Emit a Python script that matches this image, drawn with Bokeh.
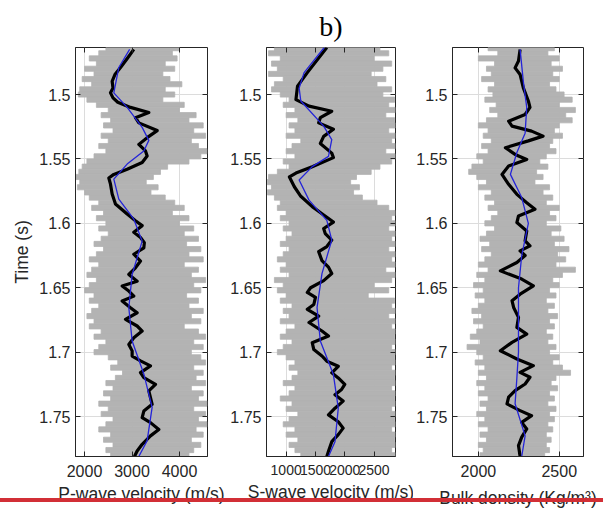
import numpy as np
from bokeh.plotting import figure
from bokeh.layouts import row
from bokeh.models import Range1d, FixedTicker, LinearAxis, Title
from bokeh.embed import file_html
from bokeh.resources import INLINE

# ---------------- data ----------------
T_GRID = np.round(1.464 + 0.004 * np.arange(80), 4)   # sample times of the raw logs (s)

# raw logs (grey band): left / right extent at each sample
P_LEFT = [2450,2300,2100,2250,2000,2200,1950,2150,1900,1870,2050,2250,2500,2350,2550,2400,2600,2350,2500,2300,
          2450,2200,2050,1950,1880,1820,1900,1850,2000,2100,2300,2150,2400,2250,2450,2300,2500,2350,2200,2400,
          2250,2100,2300,2150,2050,2250,2100,2000,2200,2100,2300,2150,2050,2200,2100,2350,2200,2450,2300,2200,
          2500,2700,2550,2800,2650,2450,2600,2400,2550,2300,2500,2350,2600,2450,2300,2550,2400,2600,2450,2550]
P_RIGHT = [4000,3850,3950,3700,3900,3650,3800,4050,3700,3900,3650,4100,4000,4350,4200,4500,4300,4550,4250,4400,
           4580,4450,4200,3750,3600,3450,3300,3550,3400,3700,3900,4100,3850,4200,4000,4300,4100,4400,4150,4450,
           4200,4500,4100,4400,4250,4550,4300,4450,4150,4400,4200,4500,4250,4450,4100,4400,4550,4300,4500,4250,
           4450,4550,4300,4500,4350,4550,4250,4500,4400,4580,4300,4550,4400,4580,4350,4500,4250,4450,4300,4200]
S_LEFT = [800,700,900,750,850,700,950,800,750,900,1050,950,1150,1000,1200,1050,1150,1000,1250,1100,
          1000,1150,950,1050,850,700,680,750,680,800,900,850,1000,900,1050,950,1100,1000,900,1050,
          950,850,1000,900,1050,800,950,850,1000,900,1100,950,1050,900,1150,1000,900,1100,950,850,
          1000,1150,1050,1200,1100,950,1150,1050,900,1100,1000,1200,1050,950,1150,1000,1200,1050,1150,1250]
S_RIGHT = [2600,2750,2500,2800,2650,2450,2700,2550,2800,2650,2850,2750,2860,2700,2850,2860,2750,2860,2800,2860,
           2700,2860,2800,2600,2450,2200,2100,2250,2150,2300,2550,2750,2860,2800,2860,2750,2860,2800,2860,2750,
           2860,2800,2860,2700,2860,2800,2500,2750,2400,2850,2800,2860,2750,2860,2800,2860,2850,2860,2800,2860,
           2850,2860,2800,2860,2850,2860,2800,2860,2850,2860,2800,2860,2850,2860,2800,2860,2850,2860,2800,2860]
D_LEFT = [2060,2120,2000,2100,2050,2080,2020,2100,2060,2090,2040,2110,2070,2120,2050,2000,2060,2030,2080,2020,
          2060,1990,2030,1960,1940,1990,2050,2000,2080,2040,2100,2060,2120,2080,2040,2100,2050,2010,2070,2020,
          2080,2040,2000,2060,1990,2040,1970,2030,1980,2040,2000,1960,2020,1970,2030,1990,1950,2010,1930,1990,
          2030,1980,2040,2000,2050,1990,2040,2000,2060,2010,2050,1990,2040,2000,2060,2010,2050,2000,2030,2010]
D_RIGHT = [2470,2430,2500,2450,2520,2460,2500,2440,2480,2530,2580,2500,2600,2540,2580,2500,2470,2520,2460,2440,
           2480,2420,2380,2430,2360,2400,2350,2440,2400,2460,2420,2500,2440,2480,2420,2510,2450,2530,2470,2560,
           2490,2540,2480,2600,2520,2460,2500,2440,2480,2420,2470,2430,2490,2440,2470,2420,2460,2430,2480,2440,
           2500,2460,2520,2570,2480,2450,2490,2440,2470,2430,2480,2440,2470,2430,2460,2420,2450,2420,2440,2410]

# black (thick) curves
T_P_BLK = [1.465,1.472,1.479,1.4845,1.4897,1.495,1.4987,1.5026,1.506,1.51,1.514,1.518,1.522,1.528,1.5335,1.5387,
           1.5438,1.5477,1.5528,1.558,1.562,1.5648,1.5696,1.5773,1.585,1.5928,1.598,1.6018,1.607,1.611,1.615,1.619,
           1.624,1.6293,1.6345,1.6397,1.645,1.6487,1.6526,1.6565,1.6603,1.6655,1.6694,1.6745,1.6797,1.6836,1.6888,
           1.694,1.699,1.703,1.7068,1.7107,1.7159,1.7198,1.725,1.73,1.7353,1.7405,1.7457,1.7508,1.7547,1.76,1.765,
           1.7715,1.7767,1.781]
V_P_BLK = [3038,2900,2758,2640,2582,2600,2547,2600,2700,2968,3354,3073,3144,3530,3319,3144,
           3284,3319,3214,2898,2617,2512,2547,2582,2652,2898,3073,3214,3038,3179,3260,3249,
           3038,3179,3073,2933,3108,2793,2933,3038,2793,2968,3108,2863,3108,3214,3038,
           2933,3003,3003,3179,3389,3179,3249,3495,3354,3389,3424,3249,3214,3389,3565,3389,
           3214,3108,3052]
T_S_BLK = [1.4635,1.483,1.4935,1.504,1.509,1.513,1.518,1.522,1.527,1.5325,1.538,1.5455,1.549,1.556,1.561,1.564,
           1.5716,1.579,1.587,1.5925,1.599,1.604,1.608,1.613,1.618,1.622,1.629,1.634,1.639,1.6445,1.65,1.6536,
           1.6575,1.663,1.6667,1.672,1.677,1.6836,1.6875,1.6927,1.698,1.703,1.707,1.711,1.716,1.72,1.725,1.729,
           1.733,1.738,1.7435,1.7487,1.754,1.759,1.764,1.7695,1.777,1.781]
V_S_BLK = [1694,1361,1194,1167,1390,1778,1583,1555,1806,1640,1583,1778,1806,1445,1167,1056,
           1140,1250,1445,1611,1806,1640,1667,1778,1694,1555,1611,1722,1778,1640,1417,1361,
           1500,1472,1361,1555,1390,1611,1722,1445,1472,1611,1694,1889,1778,1889,2000,1945,
           1833,1972,1833,1722,1889,1972,1889,1778,1722,1694]
T_D_BLK = [1.465,1.474,1.4793,1.4845,1.4948,1.505,1.51,1.5155,1.5207,1.5245,1.5284,1.5323,1.536,1.5413,1.5465,
           1.5504,1.5555,1.562,1.5697,1.5775,1.584,1.589,1.5943,1.5994,1.6059,1.6136,1.6175,1.6214,1.625,1.6304,
           1.6369,1.6433,1.6485,1.655,1.66,1.6653,1.673,1.6808,1.686,1.6924,1.6989,1.7053,1.7105,1.7157,1.7195,
           1.7247,1.7299,1.735,1.7402,1.7454,1.7493,1.7545,1.7596,1.766,1.7725,1.781]
V_D_BLK = [2258,2248,2227,2258,2278,2309,2319,2289,2187,2208,2329,2400,2309,2167,2227,
           2299,2187,2146,2187,2238,2299,2350,2248,2238,2299,2289,2319,2258,2289,2238,
           2136,2268,2340,2258,2208,2218,2248,2238,2299,2208,2136,2238,2340,2258,2319,
           2289,2227,2187,2177,2258,2329,2268,2299,2268,2248,2258]

# blue (thin) curves
T_P_BLU = [1.465,1.479,1.4987,1.51,1.5255,1.5356,1.5438,1.554,1.5657,1.5812,1.5968,1.6138,1.6397,1.6655,1.6913,
           1.717,1.7428,1.7687,1.781]
V_P_BLU = [2950,2722,2617,2898,3214,3354,3249,2898,2617,2722,3038,3214,3003,2933,3003,3249,3424,3319,3144]
T_S_BLU = [1.4635,1.483,1.495,1.505,1.5245,1.535,1.548,1.556,1.5664,1.582,1.5977,1.613,1.639,1.6654,1.6914,
           1.7174,1.7435,1.7695,1.781]
V_S_BLU = [1650,1306,1222,1250,1640,1778,1722,1445,1222,1390,1694,1778,1611,1527,1583,1806,1889,1833,1722]
T_D_BLU = [1.465,1.49,1.51,1.53,1.545,1.562,1.58,1.6,1.625,1.65,1.675,1.7,1.72,1.74,1.765,1.781]
V_D_BLU = [2258,2278,2299,2289,2238,2198,2268,2309,2268,2248,2248,2248,2238,2227,2289,2268]

Y_TICKS = [1.5, 1.55, 1.6, 1.65, 1.7, 1.75]
Y_LABELS = ["1.5", "1.55", "1.6", "1.65", "1.7", "1.75"]
P_TICKS = [2000, 3000, 4000]
S_TICKS = [1000, 1500, 2000, 2500]
D_TICKS = [2000, 2500]

FONT = "Liberation Sans"
INK = "#262626"
GREY = "#b3b3b3"


def panel(width, bl, br, xr, xticks, xlabel, left, right, tb, vb, tl, vl,
          ylabel=None, xlab_standoff=4, xtick_size="16px"):
    p = figure(width=width, height=516, x_range=Range1d(*xr), y_range=Range1d(1.781, 1.4635),
               output_backend="svg", toolbar_location=None,
               min_border_left=bl, min_border_right=br, min_border_top=47, min_border_bottom=60)
    p.background_fill_color = "white"
    p.border_fill_color = "white"
    p.outline_line_color = INK
    p.outline_line_width = 1
    p.outline_line_alpha = 1

    for g, t in ((p.xgrid, xticks), (p.ygrid, Y_TICKS)):
        g.ticker = FixedTicker(ticks=t)
        g.grid_line_color = "#dcdcdc"
        g.grid_line_width = 1

    p.hbar(y=T_GRID, left=left, right=right, height=0.004, fill_color=GREY,
           line_color=GREY, line_width=0.8)
    p.line(x=vb, y=tb, line_color="black", line_width=3.2, line_join="round")
    p.line(x=vl, y=tl, line_color="#2424d8", line_width=1.3, line_join="round")

    xa = p.xaxis[0]
    xa.ticker = FixedTicker(ticks=xticks)
    ya = p.yaxis[0]
    ya.ticker = FixedTicker(ticks=Y_TICKS)
    ya.major_label_overrides = dict(zip(Y_TICKS, Y_LABELS))
    for a in (xa, ya):
        a.axis_line_color = INK
        a.major_tick_line_color = INK
        a.major_tick_in = 5
        a.major_tick_out = 0
        a.minor_tick_line_color = None
        a.major_label_text_font = FONT
        a.major_label_text_color = INK
        a.axis_label_text_font = FONT
        a.axis_label_text_font_size = "17.5px"
        a.axis_label_text_font_style = "normal"
        a.axis_label_text_color = INK
    xa.major_label_text_font_size = xtick_size
    ya.major_label_text_font_size = "16px"
    xa.major_label_standoff = 8
    xa.axis_label = xlabel
    xa.axis_label_standoff = xlab_standoff
    ya.major_label_standoff = 5
    if ylabel:
        ya.axis_label = ylabel
        ya.axis_label_standoff = 4

    for loc, t in (("right", Y_TICKS), ("above", xticks)):
        ax = LinearAxis(ticker=FixedTicker(ticks=t))
        ax.major_label_overrides = {v: "" for v in t}
        ax.major_label_text_font_size = "0px"
        ax.major_label_standoff = 0
        ax.axis_line_color = None
        ax.major_tick_line_color = INK
        ax.major_tick_in = 5
        ax.major_tick_out = 0
        ax.minor_tick_line_color = None
        p.add_layout(ax, loc)
    return p


# frames at x = 75-207, 263-395, 450-583 (page pixels)
f1 = panel(227, 75, 20, (1810, 4590), P_TICKS, "P-wave velocity (m/s)", P_LEFT, P_RIGHT,
           T_P_BLK, V_P_BLK, T_P_BLU, V_P_BLU, ylabel="Time (s)")
f2 = panel(186, 36, 18, (665, 2865), S_TICKS, "S-wave velocity (m/s)", S_LEFT, S_RIGHT,
           T_S_BLK, V_S_BLK, T_S_BLU, V_S_BLU, xtick_size="14px")
f3 = panel(190, 37, 20, (1840, 2650), D_TICKS, "Bulk density (Kg/m\u00b3)", D_LEFT, D_RIGHT,
           T_D_BLK, V_D_BLK, T_D_BLU, V_D_BLU, xlab_standoff=8)

f2.add_layout(Title(text="b)", align="center", text_font="Liberation Serif", text_font_size="28px",
                    text_font_style="normal", text_color="black", standoff=12), "above")

layout = row(f1, f2, f3)
html = file_html(layout, INLINE)
red = ('<div style="position:fixed;left:0;top:498px;width:603px;height:4px;'
       'background:#d22f36;z-index:1000;pointer-events:none"></div>')
html = html.replace("</body>", red + "</body>")
open("out.html", "w").write(html)
